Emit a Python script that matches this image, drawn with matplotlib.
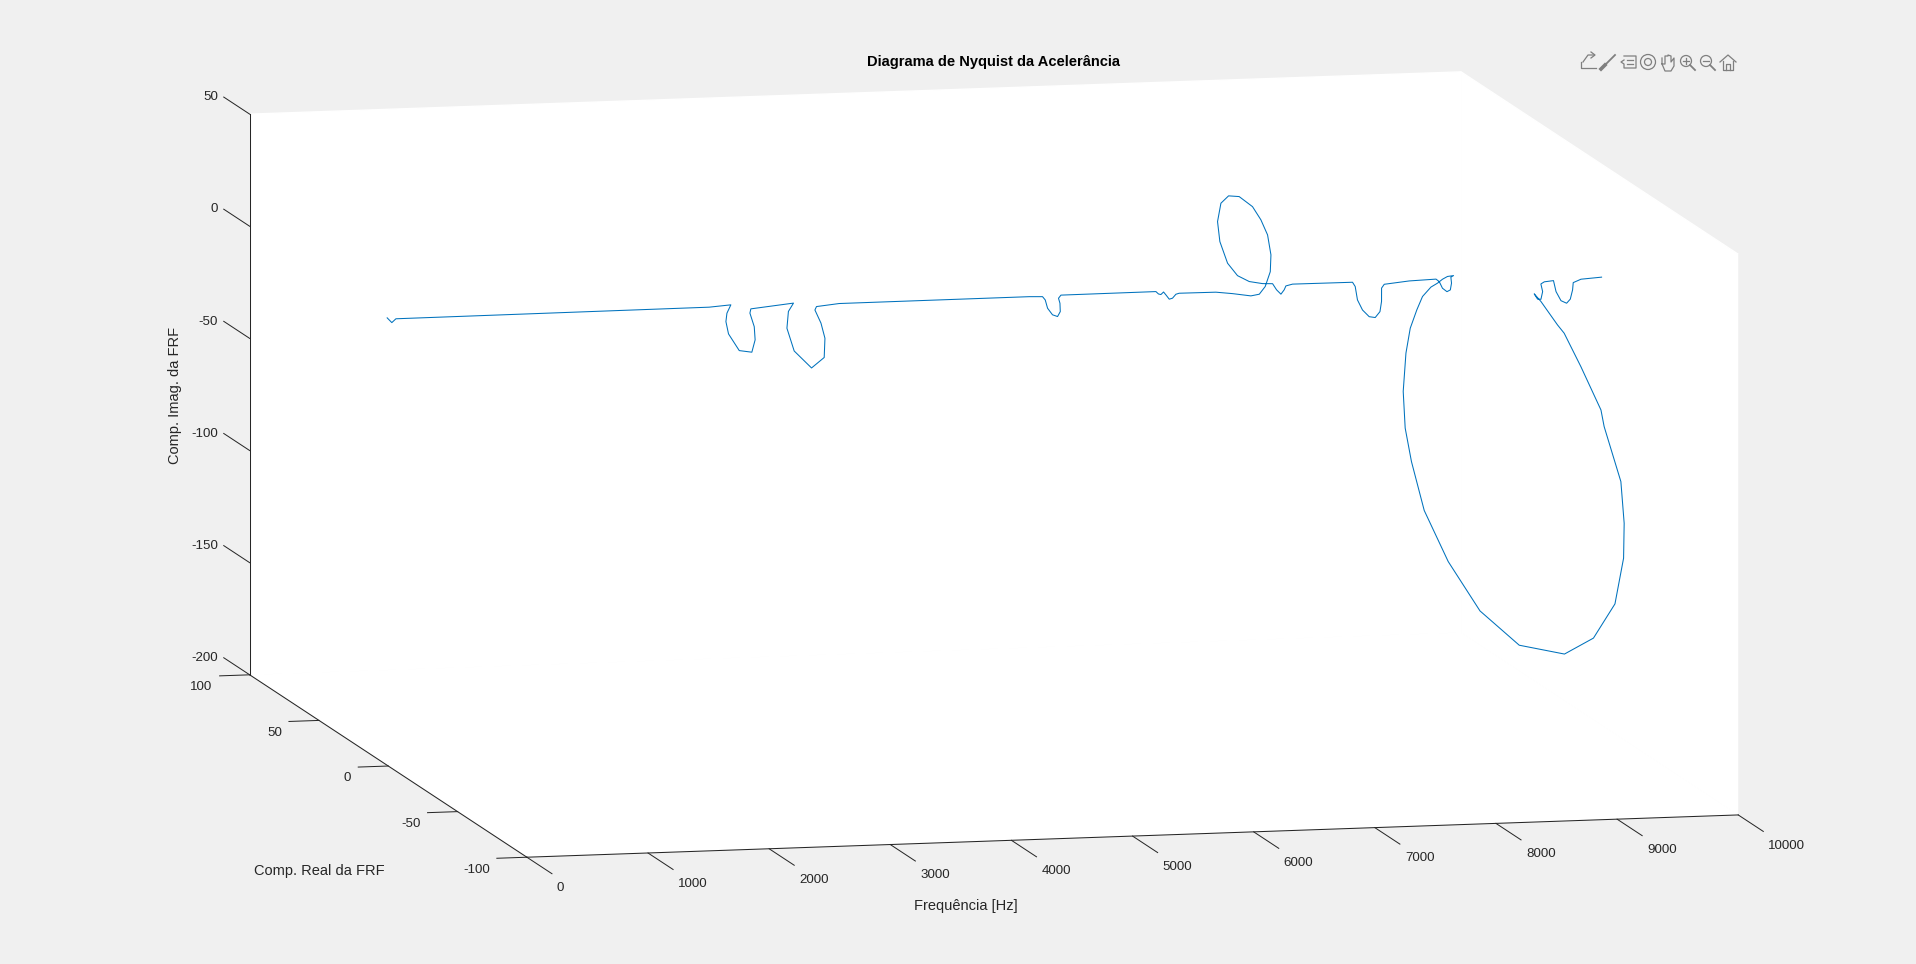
import numpy as np
import matplotlib
matplotlib.use('Agg')
import matplotlib.pyplot as plt
from matplotlib.text import Text
from matplotlib.lines import Line2D
from matplotlib.patches import Circle
from matplotlib.transforms import IdentityTransform

freq = [0,20,63,2649,2828,2847,2865,2883,2902,2920,2938,2957,2975,2993,3345,3366,3387,3408,3430,3451,3472,3493,3514,3535,3722,5291,5401,5420,5439,5458,5477,5496,5515,5534,5553,6337,6358,6378,6400,6422,6447,6474,6502,6529,6832,6969,7121,7132,7142,7153,7163,7174,7184,7195,7205,7216,7226,7237,7247,7258,7268,7279,7289,7300,7333,7369,7396,7410,7465,7960,7989,8018,8047,8076,8105,8135,8164,8193,8222,8428,8649,8669,8690,8711,8732,8752,8773,8794,8816,8838,8860,8883,8905,8927,8949,8972,8994,9016,9038,9060,9083,9105,9127,9149,9171,9194,9216,9238,9260,9282,9305,9327,9349,9371,9393,9416,9438,9460,9474,9488,9502,9515,9543,9619,9647,9674,9701,9728,9755,9782,9846,10000]
real = [0.8,-0.8,0.0,0.0,0.0,4.5,6.8,6.5,0.4,-7.1,-7.9,-5.6,-0.9,0.0,0.0,5.5,8.4,5.0,-5.6,-12.9,-11.6,-6.9,-0.7,0.0,0.0,0.0,0.0,-0.3,-0.3,-2.2,-4.2,-4.5,-2.6,0.1,0.0,0.0,0.0,0.0,0.0,0.0,0.0,0.0,0.0,0.0,0.0,0.0,0.0,-5.1,-8.5,-11.2,-10.8,-7.4,-1.7,5.3,15.8,24.4,30.8,34.2,33.4,28.8,22.5,15.0,6.3,0.0,0.0,0.0,0.0,0.0,0.0,0.0,0.6,1.5,0.4,-1.9,-3.7,-4.5,-3.1,-0.6,0.0,0.0,0.0,-0.6,-1.1,-2.5,-3.1,-2.2,0.1,0.0,6.3,11.8,17.4,24.1,32.1,38.1,44.8,49.9,53.8,54.3,51.7,44.4,29.1,8.1,-18.3,-49.0,-68.0,-81.5,-85.8,-84.3,-80.0,-66.0,-61.7,-45.3,-31.3,-24.6,-16.6,-8.7,-3.2,0.0,-1.2,-2.4,-2.4,0.0,0.0,0.0,0.6,-0.6,-2.3,-2.6,-1.9,0.0,0.0,-1.4]
imag = [-0.5,-2.0,-0.7,-0.4,0.3,-5.3,-10.0,-15.4,-20.4,-18.1,-12.3,-7.4,-3.3,-1.8,0.1,-5.9,-14.6,-23.4,-26.7,-19.1,-11.1,-6.3,-3.0,-1.8,-0.8,-0.7,-0.9,-2.3,-6.0,-8.2,-8.2,-5.9,-3.0,-1.9,-0.5,-0.4,-1.5,-1.8,-0.7,-2.2,-4.0,-3.6,-1.9,-1.5,-1.6,-2.5,-3.8,-1.0,3.8,11.5,18.8,26.3,30.7,33.7,33.9,30.7,24.8,15.2,6.6,-1.2,-4.2,-3.8,-1.2,1.3,-1.5,-3.5,-1.6,0.1,0.8,0.7,-1.5,-7.9,-12.0,-14.1,-13.8,-10.9,-7.0,-2.1,-0.7,0.4,0.8,-0.1,-2.9,-3.9,-2.9,-0.3,1.4,2.1,-0.9,-4.4,-8.5,-13.0,-20.5,-28.9,-39.9,-53.1,-71.8,-88.4,-102.3,-121.2,-137.8,-151.3,-155.9,-147.4,-132.6,-111.9,-89.8,-74.9,-58.1,-39.3,-33.7,-21.1,-11.9,-11.0,-9.0,-7.1,-6.9,-7.3,-9.2,-8.8,-5.4,-3.0,-2.1,-1.7,-6.9,-10.5,-11.0,-9.1,-5.3,-2.9,-1.5,-0.3]
xticks = [0,1000,2000,3000,4000,5000,6000,7000,8000,9000,10000]
yticks = [-100,-50,0,50,100]
zticks = [-200,-150,-100,-50,0,50]

plt.rcParams['font.family'] = ['Liberation Sans', 'DejaVu Sans']
fig = plt.figure(figsize=(19.16, 9.64), dpi=100, facecolor='#F0F0F0')
W = 1788.
PX = 0.185 / W
ax = fig.add_axes([75.8/1916, -418.7/964, W/1916, W/964], projection='3d', proj_type='ortho')
ax.set_box_aspect((1243, 1235, 567.2), zoom=1)
ax.view_init(elev=8.717, azim=-102.97)
ax.set_facecolor('none')
ax.grid(False)
ax.plot(freq, real, imag, color='#0072BD', lw=0.75)
ax.set_xlim(0, 10000, view_margin=0)
ax.set_ylim(-100, 100, view_margin=0)
ax.set_zlim(-200, 50, view_margin=0)
ax.set_xticks(xticks); ax.set_xticklabels([str(v) for v in xticks], fontsize=9.6, color='#262626')
ax.set_yticks(yticks); ax.set_yticklabels([str(v) for v in yticks], fontsize=9.6, color='#262626')
ax.set_zticks(zticks); ax.set_zticklabels([str(v) for v in zticks], fontsize=9.6, color='#262626')
for axis, out in ((ax.xaxis, -1.13), (ax.yaxis, -0.31), (ax.zaxis, 1.17)):
    axis.set_pane_color((1, 1, 1, 1))
    axis.pane.set_edgecolor((1, 1, 1, 1))
    axis.line.set_color('#262626'); axis.line.set_linewidth(0.75)
    axis._axinfo['tick']['inward_factor'] = 0
    axis._axinfo['tick']['outward_factor'] = out
    axis._axinfo['tick']['linewidth'] = {True: 0.72, False: 0.5}
    axis.set_rotate_label(False)
ax.zaxis.set_ticks_position('upper')
ax.zaxis.set_label_position('upper')
ax.zaxis._get_tickdir = lambda position: 1
ax.xaxis._axmask = lambda: (False, True, False)
ax.yaxis._axmask = lambda: (True, False, False)
ax.zaxis._axmask = lambda: (False, True, False)
ax.tick_params(axis='x', pad=64.6, color='#262626')
ax.tick_params(axis='y', pad=12.5, color='#262626')
ax.tick_params(axis='z', pad=68.7, color='#262626')

def nudge(text, dx, dy):
    text.set_position = lambda xy: Text.set_position(text, (xy[0] + dx * PX, xy[1] + dy * PX))

for lab in ax.get_xticklabels():
    lab.set_ha('left'); lab.set_va('top'); nudge(lab, 0, -5)
for lab in ax.get_yticklabels():
    lab.set_ha('right'); lab.set_va('top'); nudge(lab, 0, -5)
for lab in ax.get_zticklabels():
    lab.set_ha('right'); lab.set_va('center'); nudge(lab, 0, -4)
ax.set_xlabel('Frequência [Hz]', fontsize=10.5, color='#262626', labelpad=-21)
ax.set_ylabel('Comp. Real da FRF', fontsize=10.5, color='#262626', labelpad=-21)
ax.set_zlabel('Comp. Imag. da FRF', fontsize=10.5, color='#262626', labelpad=-21, rotation=90)
nudge(ax.xaxis.label, -167, -70.4)
nudge(ax.yaxis.label, -69, -104.85)
nudge(ax.zaxis.label, -74.5, -1.4)
ax.set_title('Diagrama de Nyquist da Acelerância', fontsize=10.55, fontweight='bold', color='k', x=0.5134, y=0.7955)

# figure toolbar icons
G = '#7F7F7F'
def L(xs, ys, lw=0.9):
    fig.add_artist(Line2D(xs, [964 - v for v in ys], color=G, lw=lw, transform=IdentityTransform()))
def C(x, y, rad, lw=0.9):
    fig.add_artist(Circle((x, 964 - y), rad, fill=False, ec=G, lw=lw, transform=IdentityTransform()))
L([1581,1581,1596],[62,68,68]); L([1583,1588,1594],[62,55,55]); L([1591,1595,1591],[52,55,58])
L([1603,1615],[67,55],1.3); L([1601,1605],[69,65],2.6)
L([1624,1636,1636,1624,1624,1621,1624],[56,56,68,68,64,62,60]); L([1627,1633],[60,60]); L([1627,1633],[64,64])
C(1648,62,7.5); C(1648,62,3.5)
L([1662,1662,1665,1665,1668,1668,1671,1671,1674,1674,1671,1665,1662],[58,64,64,56,56,55,56,62,58,66,71,71,64])
C(1686,61,5.5); L([1690,1695],[65,70],1.3); L([1683,1689],[61,61]); L([1686,1686],[58,64])
C(1706,61,5.5); L([1710,1715],[65,70],1.3); L([1703,1709],[61,61])
L([1720,1728,1736],[62,55,62]); L([1723,1723,1733,1733],[61,70,70,61]); L([1726,1726,1730,1730],[70,64,64,70])

fig.savefig('out.png', dpi=100, facecolor=fig.get_facecolor())
